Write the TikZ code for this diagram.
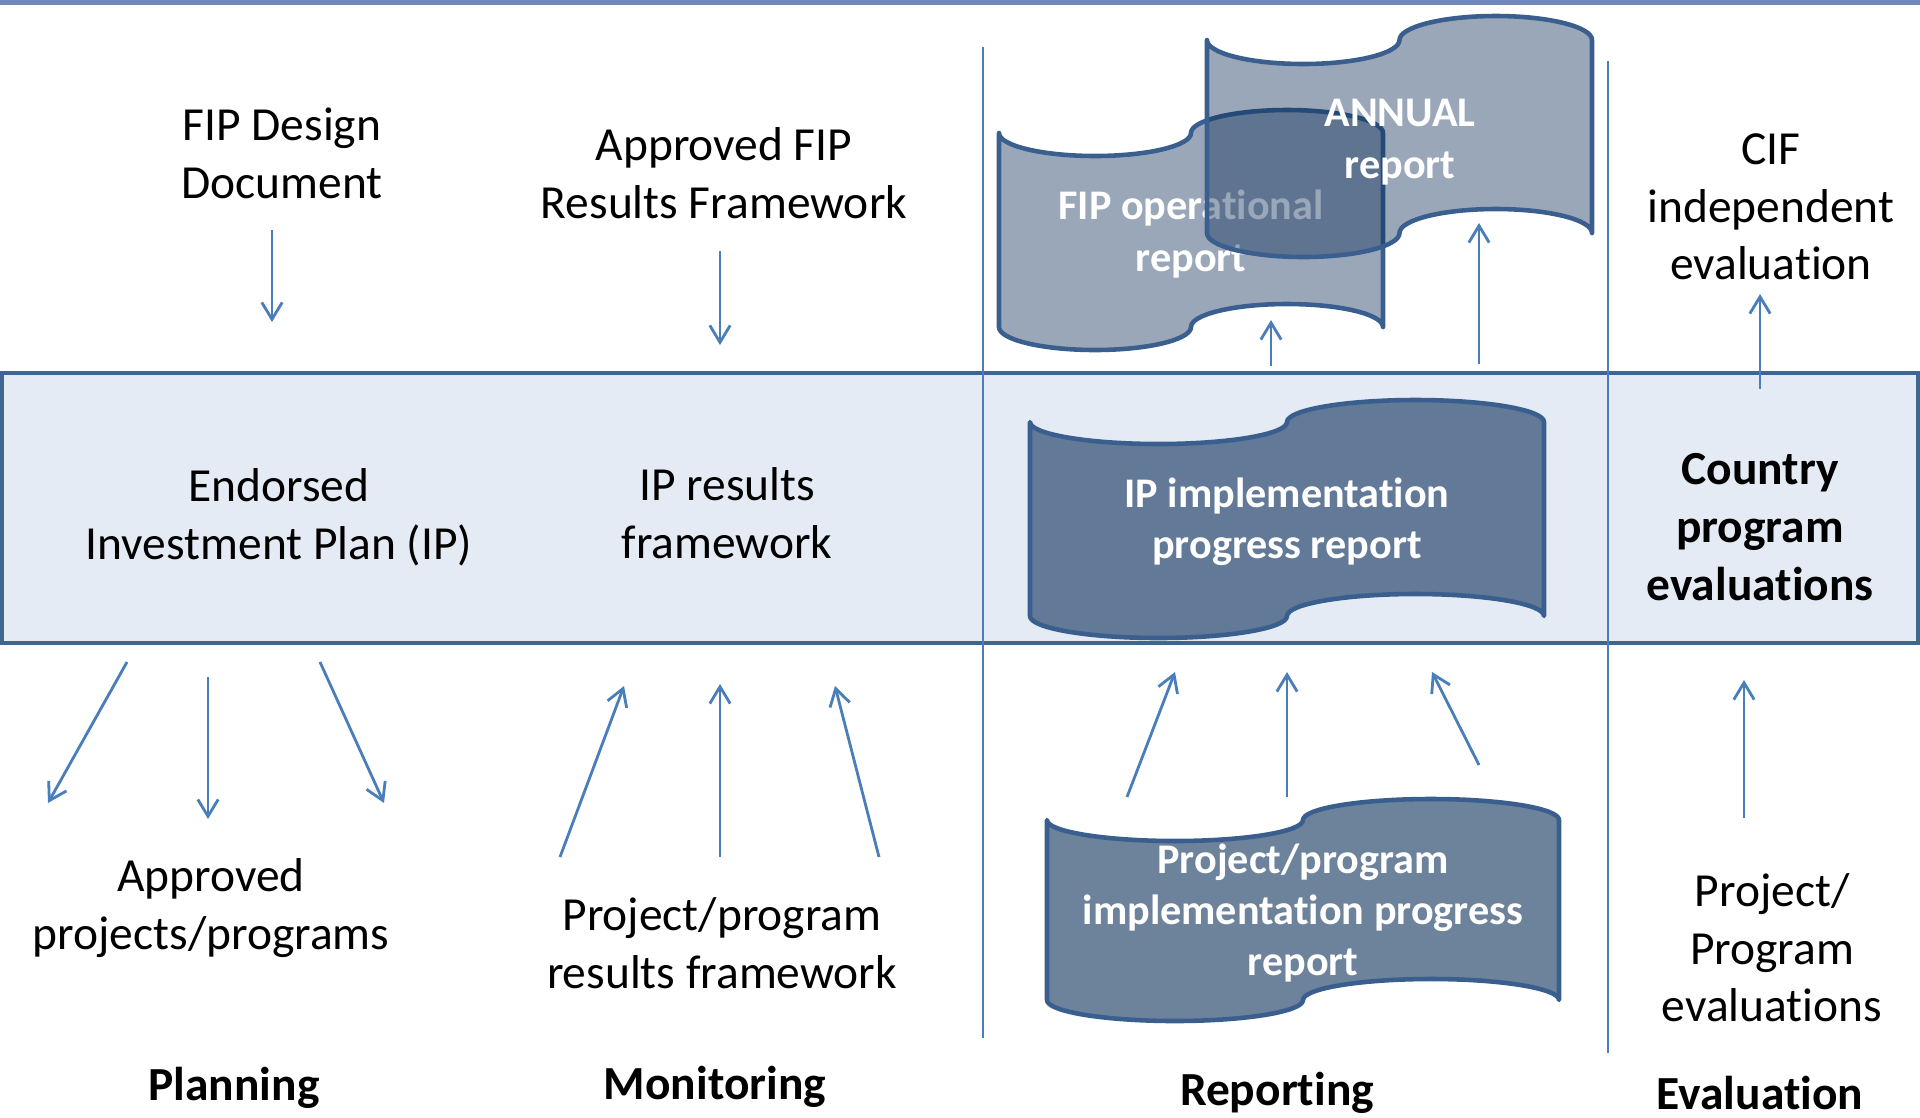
\documentclass[tikz,border=0pt]{standalone}
\usepackage{fontspec}
\setmainfont{Carlito}[Ligatures={NoCommon}]
\usepackage{tikz}
\usetikzlibrary{arrows.meta}

\definecolor{arrowblue}{HTML}{4A7EBB}
\definecolor{bandfill}{HTML}{E4EBF5}
\definecolor{bandedge}{HTML}{3F6592}
\definecolor{tapeedge}{HTML}{3A5F8E}
\definecolor{tapeblue}{HTML}{0C2E59}
\definecolor{topstripe}{HTML}{7189BA}

\tikzset{
  txt/.style={align=center, font=\fontsize{13.5}{16.4}\selectfont},
  head/.style={align=center, font=\fontsize{13.5}{16.4}\selectfont\bfseries},
  tapetxt/.style={align=center, text=white, font=\fontsize{12}{14.6}\selectfont\bfseries},
  flow/.style={draw=arrowblue, line width=0.8pt, -{Straight Barb[length=4.8pt,width=5.8pt]}},
  tapeline/.style={draw=tapeedge, line width=1.3pt, line join=round, fill=tapeblue},
  divider/.style={draw=arrowblue, line width=0.7pt}
}

% #2,#3 top left corner, #4 quarter width, #5 height, #6 wave depth
\newcommand{\tape}[6][]{%
  \draw[tapeline,#1] (#2,#3)
    .. controls +(0,0.55*#6) and +(-0.55*#4,0) .. ++(#4,#6)
    .. controls +(0.55*#4,0) and +(0,0.55*#6) .. ++(#4,-#6)
    .. controls +(0,-0.55*#6) and +(-0.55*#4,0) .. ++(#4,-#6)
    .. controls +(0.55*#4,0) and +(0,-0.55*#6) .. ++(#4,#6)
    -- ++(0,#5)
    .. controls +(0,-0.55*#6) and +(0.55*#4,0) .. ++(-#4,-#6)
    .. controls +(-0.55*#4,0) and +(0,-0.55*#6) .. ++(-#4,#6)
    .. controls +(0,0.55*#6) and +(0.55*#4,0) .. ++(-#4,#6)
    .. controls +(-0.55*#4,0) and +(0,0.55*#6) .. ++(-#4,-#6)
    -- cycle;}

\begin{document}
\begin{tikzpicture}[x=0.01cm, y=-0.01cm]
  \useasboundingbox (0,0) rectangle (1920,1117);
  \fill[topstripe] (0,0) rectangle (1920,4.5);
  \draw[draw=bandedge, fill=bandfill, line width=1.15pt] (2,373) rectangle (1918,643);
  \draw[divider] (983,47) -- (983,1038);
  \draw[divider] (1608,61) -- (1608,1053);

  \tape[fill opacity=0.42]{999}{133}{96}{194}{23}
  \node[tapetxt] (fipop) at (1191,234) {FIP operational\\report};
  \tape[fill opacity=0.42]{1207}{40}{96.25}{193}{24}
  \node[tapetxt] (annual) at (1400,142) {ANNUAL\\report};
  \tape[fill opacity=0.6]{1030}{422}{128.5}{194}{22}
  \node[tapetxt] (ipprog) at (1287,522) {IP implementation\\progress report};
  \tape[fill opacity=0.6]{1047}{820}{128}{180}{21}
  \node[tapetxt] (projprog) at (1303,913) {Project/program\\implementation progress\\report};

  \node[txt] (fipdesign) at (282,153) {FIP Design\\Document};
  \node[txt] (approvedfip) at (724,173) {Approved FIP\\Results Framework};
  \node[txt] (endorsed) at (279,517) {Endorsed\\Investment Plan (IP)};
  \node[txt] (ipresults) at (727,513) {IP results\\framework};
  \node[txt] (approvedproj) at (211,908) {Approved\\projects/programs};
  \node[txt] (projresults) at (722,943) {Project/program\\results framework};
  \node[txt] (cif) at (1771,207) {CIF\\independent\\evaluation};
  \node[head] (country) at (1760,527) {Country\\program\\evaluations};
  \node[txt] (projeval) at (1772,948) {Project/\\Program\\evaluations};

  \node[head] (planning) at (234,1088) {Planning};
  \node[head] (monitoring) at (715,1087) {Monitoring};
  \node[head] (reporting) at (1277,1093) {Reporting};
  \node[head] (evaluation) at (1760,1093) {Evaluation};

  \coordinate (pa1) at (272,230);  \coordinate (pa2) at (272,322);
  \coordinate (pb1) at (127,662);  \coordinate (pb2) at (48,803);
  \coordinate (pc1) at (208,677);  \coordinate (pc2) at (208,819);
  \coordinate (pd1) at (320,662);  \coordinate (pd2) at (384,803);
  \coordinate (ma1) at (720,251);  \coordinate (ma2) at (720,345);
  \coordinate (mb1) at (560,857);  \coordinate (mb2) at (624,686);
  \coordinate (mc1) at (720,857);  \coordinate (mc2) at (720,684);
  \coordinate (md1) at (879,857);  \coordinate (md2) at (835,686);
  \coordinate (ra1) at (1271,366); \coordinate (ra2) at (1271,320);
  \coordinate (rb1) at (1479,364); \coordinate (rb2) at (1479,223);
  \coordinate (rc1) at (1127,797); \coordinate (rc2) at (1175,672);
  \coordinate (rd1) at (1287,797); \coordinate (rd2) at (1287,672);
  \coordinate (re1) at (1479,765); \coordinate (re2) at (1432,672);
  \coordinate (ea1) at (1760,389); \coordinate (ea2) at (1760,294);
  \coordinate (eb1) at (1744,818); \coordinate (eb2) at (1744,680);

  \draw[flow] (pa1) -- (pa2);
  \draw[flow] (pb1) -- (pb2);
  \draw[flow] (pc1) -- (pc2);
  \draw[flow] (pd1) -- (pd2);
  \draw[flow] (ma1) -- (ma2);
  \draw[flow] (mb1) -- (mb2);
  \draw[flow] (mc1) -- (mc2);
  \draw[flow] (md1) -- (md2);
  \draw[flow] (ra1) -- (ra2);
  \draw[flow] (rb1) -- (rb2);
  \draw[flow] (rc1) -- (rc2);
  \draw[flow] (rd1) -- (rd2);
  \draw[flow] (re1) -- (re2);
  \draw[flow] (ea1) -- (ea2);
  \draw[flow] (eb1) -- (eb2);
\end{tikzpicture}
\end{document}
